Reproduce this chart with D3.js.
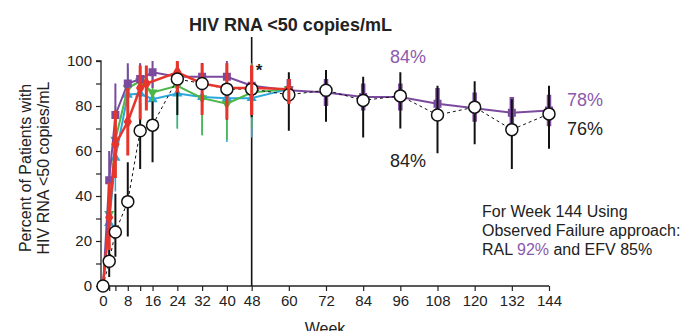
<!DOCTYPE html>
<html><head><meta charset="utf-8">
<script src="https://cdn.jsdelivr.net/npm/d3@7"></script>
<style>
html,body{margin:0;padding:0;background:#fff;}
svg{display:block;font-family:Arial,"Liberation Sans",Helvetica,sans-serif;}
</style></head>
<body><svg id="c" width="686" height="331"></svg>
<script>
// ---- data ----
const weeks = [0,2,4,8,12,16,24,32,40,48,60,72,84,96,108,120,132,144];
const tickWeeks = [0,2,4,8,12,16,24,32,40,48,60,72,84,96,108,120,132,144];
const labelWeeks = [0,8,16,24,32,40,48,60,72,84,96,108,120,132,144];
const yTicks = [0,10,20,30,40,50,60,70,80,90,100];
const yLabels = [0,20,40,60,80,100];

const ralPct = [0,47,76,90,92,95,93,93,93,89,87,86,84,84,81,79,77,78];
const ralLo  = [null,33,62,80,84,88,87,86,86,83,82,80,78,78,74,73,71,71];
const ralHi  = [null,60,90,99,99,100,99,99,100,95,92,92,90,90,88,86,84,85];

const efvPct = [0,11,24,37.5,69,71.5,92,90,87.5,87.5,85,87,82.5,84.5,76,79.5,69.5,76.5];
const efvLo  = [null,4,13,22,52,55,76,78,74,75,69,73,66,70,59,63,52,61];
const efvHi  = [null,19,41,55,81,82,99,99,98,97,95,96,93,95,89,91,83,89];

const redWeeks = [0,2,4,8,12,14,24,32,40,48,60];
const redPct   = [0,30.5,63,73,88,90,95,90,88,88,87.5];
const redLo    = [null,16,48,58,74,78,86,76,74,76,81];
const redHi    = [null,46,78,88,98,98,100,99,99,98,92];

const grnWeeks = [0,2,4,8,12,16,24,32,40,48,60];
const grnPct   = [0,32,65,88,91,86,89,83.5,81,86,87.5];
const grnLo    = [null,18,50,75,82,72,70,67,65,70,null];
const grnHi    = [null,46,80,97,99,95,100,97,95,99,null];

const cyaWeeks = [0,2,4,8,12,16,24,32,40,48,60];
const cyaPct   = [0,28,57,85,85.5,83,85.5,84,83.5,83.5,87.5];
const cyaLo    = [null,14,42,72,72,70,70,67,64,66,null];
const cyaHi    = [null,42,72,97,97,94,98,97,96,98,null];

const pctLabels = [
  {t:"84%", c:"#8c5aac", x:390, y:63},
  {t:"84%", c:"#222", x:390, y:167},
  {t:"78%", c:"#8c5aac", x:567, y:106},
  {t:"76%", c:"#222", x:567, y:135}
];

// ---- colours ----
const PURPLE = "#7b4a9f", RED = "#e8352b", GREEN = "#4cb748", CYAN = "#2aa8dc", BLACK = "#111";

const svg = d3.select("#c");
const x = d3.scaleLinear().domain([0,144]).range([103,549]);
const y = d3.scaleLinear().domain([0,100]).range([286,61]);
const axisX0 = 101;

// title
svg.append("text").attr("x",189).attr("y",31).attr("font-size",18).attr("font-weight","bold")
  .attr("fill","#222").text("HIV RNA <50 copies/mL");

// y axis
const yAxis = d3.axisLeft(y).tickValues(yTicks).tickSize(5)
  .tickFormat(d => yLabels.includes(d) ? d : "");
const gy = svg.append("g").attr("transform",`translate(${axisX0},0)`).call(yAxis);
gy.select(".domain").attr("d",`M-5,${y(100)}H0V${y(0)}`).attr("stroke","#222").attr("stroke-width",1.3);
gy.selectAll(".tick line").attr("stroke","#222").attr("stroke-width",1.2);
gy.selectAll(".tick text").attr("font-size",15).attr("fill","#222").attr("x",-9)
  .attr("font-family","Arial,'Liberation Sans',sans-serif");

// x axis
const xAxis = d3.axisBottom(x).tickValues(tickWeeks).tickSize(5)
  .tickFormat(d => labelWeeks.includes(d) ? d : "");
const gx = svg.append("g").attr("transform",`translate(0,${y(0)})`).call(xAxis);
gx.select(".domain").attr("d",`M${axisX0},0H${x(144)}`).attr("stroke","#222").attr("stroke-width",1.3);
gx.selectAll(".tick line").attr("stroke","#222").attr("stroke-width",1.2);
gx.selectAll(".tick text").attr("font-size",15).attr("fill","#222").attr("y",9)
  .attr("font-family","Arial,'Liberation Sans',sans-serif");

svg.append("text").attr("x",(axisX0+x(144))/2).attr("y",334).attr("text-anchor","middle")
  .attr("font-size",16).attr("fill","#222").text("Week");

// y title
const yt = svg.append("text").attr("transform","translate(31,168) rotate(-90)")
  .attr("text-anchor","middle").attr("font-size",16).attr("fill","#222");
yt.append("tspan").attr("x",0).attr("dy",0).text("Percent of Patients with");
yt.append("tspan").attr("x",0).attr("dy",18).text("HIV RNA <50 copies/mL");

// vertical week-48 line
svg.append("line").attr("x1",x(48)).attr("x2",x(48)).attr("y1",37).attr("y2",y(0))
  .attr("stroke",BLACK).attr("stroke-width",1.6);
svg.append("text").attr("x",x(48)+4).attr("y",76).attr("font-size",17).attr("font-weight","bold")
  .attr("fill","#222").text("*");

function series(wk, pct, lo, hi, color, lw, ew, dash){
  const data = wk.map((w,i)=>({w, v:pct[i], lo:lo[i], hi:hi[i]}));
  const g = svg.append("g");
  g.selectAll("line.eb").data(data.filter(d=>d.lo!=null)).join("line")
    .attr("x1",d=>x(d.w)).attr("x2",d=>x(d.w)).attr("y1",d=>y(d.lo)).attr("y2",d=>y(d.hi))
    .attr("stroke",color).attr("stroke-width",d=>typeof ew==="function"?ew(d):ew);
  g.append("path").datum(data).attr("fill","none").attr("stroke",color).attr("stroke-width",lw)
    .attr("stroke-dasharray",dash||null)
    .attr("d",d3.line().x(d=>x(d.w)).y(d=>y(d.v)));
  return {g,data};
}
function markers(s, type, size, fill, stroke, sw){
  s.g.selectAll("path.m").data(s.data.filter(d=>d.w>0)).join("path").attr("class","m")
    .attr("transform",d=>`translate(${x(d.w)},${y(d.v)})`)
    .attr("d",d3.symbol().type(type).size(size))
    .attr("fill",fill).attr("stroke",stroke||"none").attr("stroke-width",sw||0);
}

const sC = series(cyaWeeks,cyaPct,cyaLo,cyaHi,CYAN,2,1.5);
markers(sC, d3.symbolTriangle, 45, CYAN);
const sG = series(grnWeeks,grnPct,grnLo,grnHi,GREEN,2,1.5);
const triDown = {draw(ctx,size){const s=Math.sqrt(size/0.433); const h=s*0.866;
  ctx.moveTo(-s/2,-h/3); ctx.lineTo(s/2,-h/3); ctx.lineTo(0,2*h/3); ctx.closePath();}};
markers(sG, triDown, 45, GREEN);
const sP = series(weeks,ralPct,ralLo,ralHi,PURPLE,2,d=>d.w>48?4.5:2);
markers(sP, d3.symbolSquare, 64, PURPLE);
const sE = series(weeks,efvPct,efvLo,efvHi,BLACK,1,2,"3,3");
const sR = series(redWeeks,redPct,redLo,redHi,RED,2.5,3);
markers(sR, d3.symbolDiamond, 60, RED);
// open circles on top
svg.append("g").selectAll("circle").data(sE.data).join("circle")
  .attr("cx",d=>x(d.w)).attr("cy",d=>y(d.v)).attr("r",6)
  .attr("fill","#fff").attr("stroke",BLACK).attr("stroke-width",1.5);
// red error bars at week 48 and 60 sit over the circles
svg.append("g").selectAll("line").data(sR.data.filter(d=>d.w>=48)).join("line")
  .attr("x1",d=>x(d.w)).attr("x2",d=>x(d.w)).attr("y1",d=>y(d.lo)).attr("y2",d=>y(d.hi))
  .attr("stroke",RED).attr("stroke-width",3);

// labels
svg.selectAll("text.pl").data(pctLabels).join("text").attr("class","pl")
  .attr("x",d=>d.x).attr("y",d=>d.y).attr("font-size",18).attr("fill",d=>d.c).text(d=>d.t);

const ann = svg.append("text").attr("font-size",16).attr("fill","#222");
ann.append("tspan").attr("x",482).attr("y",216.5).text("For Week 144 Using");
ann.append("tspan").attr("x",482).attr("y",235.5).text("Observed Failure approach:");
const l3 = ann.append("tspan").attr("x",482).attr("y",254.5);
l3.append("tspan").text("RAL ");
l3.append("tspan").attr("fill","#8c5aac").text("92%");
l3.append("tspan").text(" and EFV 85%");
</script></body></html>
